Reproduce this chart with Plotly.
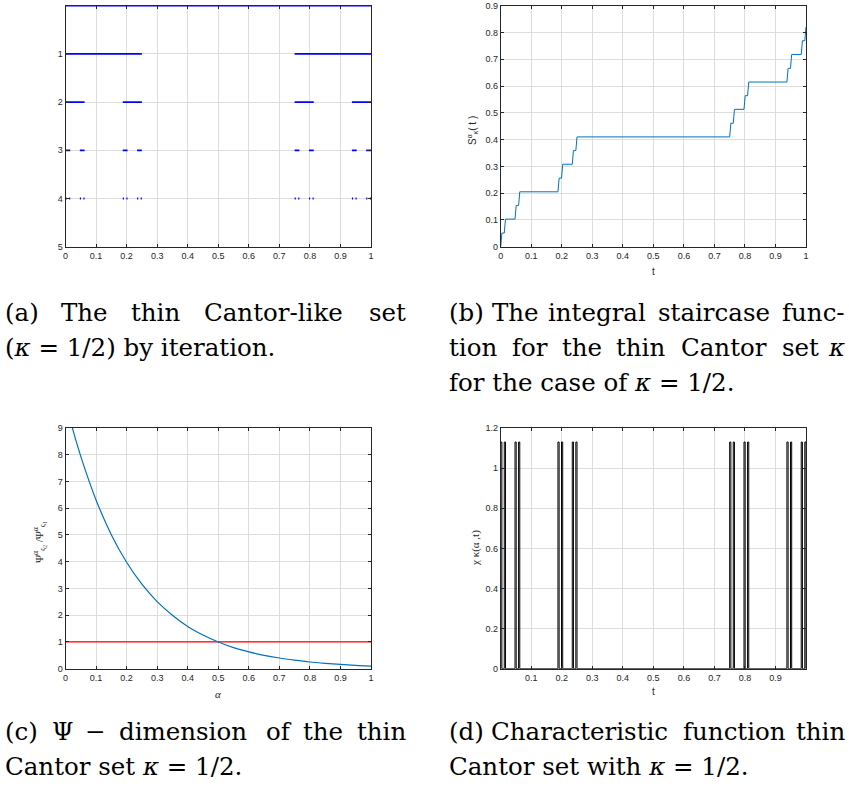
import plotly.graph_objects as go

W, H = 849, 788

# ---------------- data ----------------
# (a) thin Cantor-like set, interval starts per iteration level and interval widths
level_ids = [0, 1, 2, 3, 4]
level0_starts = [0.0]
level1_starts = [0.0, 0.75]
level2_starts = [0.0, 0.1875, 0.75, 0.9375]
level3_starts = [0.0, 0.046875, 0.1875, 0.234375, 0.75, 0.796875, 0.9375, 0.984375]
level4_starts = [0.0, 0.01171875, 0.046875, 0.05859375, 0.1875, 0.19921875, 0.234375, 0.24609375,
                 0.75, 0.76171875, 0.796875, 0.80859375, 0.9375, 0.94921875, 0.984375, 0.99609375]
level_widths = [1.0, 0.25, 0.0625, 0.015625, 0.00390625]
level_starts = [level0_starts, level1_starts, level2_starts, level3_starts, level4_starts]

# (b) integral staircase function
stair_t = [0.0, 0.0039, 0.0117, 0.0156, 0.0469, 0.0508, 0.0586, 0.0625,
           0.1875, 0.1914, 0.1992, 0.2031, 0.2344, 0.2383, 0.2461, 0.25,
           0.75, 0.7539, 0.7617, 0.7656, 0.7969, 0.8008, 0.8086, 0.8125,
           0.9375, 0.9414, 0.9492, 0.9531, 0.9844, 0.9883, 0.9961, 1.0]
stair_S = [0.0, 0.051, 0.051, 0.103, 0.103, 0.154, 0.154, 0.205,
           0.205, 0.256, 0.256, 0.308, 0.308, 0.359, 0.359, 0.41,
           0.41, 0.461, 0.461, 0.513, 0.513, 0.564, 0.564, 0.615,
           0.615, 0.666, 0.666, 0.718, 0.718, 0.769, 0.769, 0.82]

# (c) Psi-dimension ratio
alpha = [0.0, 0.025, 0.05, 0.1, 0.15, 0.2, 0.25, 0.3, 0.35, 0.4, 0.45, 0.5,
         0.55, 0.6, 0.65, 0.7, 0.75, 0.8, 0.85, 0.9, 0.95, 1.0]
psi_ratio = [10.0, 8.9, 7.94, 6.31, 5.01, 3.98, 3.16, 2.51, 2.0, 1.58, 1.26, 1.0,
             0.79, 0.63, 0.5, 0.4, 0.32, 0.25, 0.2, 0.16, 0.126, 0.1]
ref_x = [0.0, 1.0]
ref_y = [1.0, 1.0]

# (d) characteristic function
chi_starts = level4_starts
chi_width = 0.00390625
chi_height = 1.13

# captions: (left x, right x or None when not justified, center y, words)
caption_lines = [
    (3, 408, 312, ["(a)", "The", "thin", "Cantor-like", "set"]),
    (3, None, 347, ["(<i>κ</i> = 1/2)", "by", "iteration."]),
    (447, 847, 312, ["(b)", "The", "integral", "staircase", "func-"]),
    (447, 847, 347, ["tion", "for", "the", "thin", "Cantor", "set", "<i>κ</i>"]),
    (447, None, 382, ["for", "the", "case", "of", "<i>κ</i> = 1/2."]),
    (3, 408, 731, ["(c)", "Ψ", "−", "dimension", "of", "the", "thin"]),
    (3, None, 766, ["Cantor", "set", "<i>κ</i> = 1/2."]),
    (447, 847, 731, ["(d)", "Characteristic", "function", "thin"]),
    (447, None, 766, ["Cantor", "set", "with", "<i>κ</i> = 1/2."]),
]

# ---------------- helpers ----------------
def px(x):
    return x / W

def py(y):
    return 1 - y / H

# approximate DejaVu Serif advance widths (per 1000 em)
TW = {" ": 318, "(": 390, ")": 390, "a": 596, "b": 640, "c": 560, "d": 640, "e": 592, "f": 370,
      "g": 640, "h": 644, "i": 320, "k": 610, "l": 320, "m": 948, "n": 644, "o": 602, "p": 640,
      "r": 478, "s": 513, "t": 402, "u": 644, "v": 565, "w": 856, "y": 565, "z": 523, "T": 683,
      "C": 734, "-": 338, ".": 318, "=": 838, "/": 337, "1": 636, "2": 636, "Ψ": 840, "κ": 600,
      "−": 838}

def text_width(s, size):
    s = s.replace("<i>", "").replace("</i>", "")
    return 1.06 * sum(TW.get(ch, 600) for ch in s) * size / 1000.0

AX = "#262626"
GRID = "#dedede"
TICKFONT = dict(family="Liberation Sans, Arial", size=9, color=AX)

fig = go.Figure()

# (a)
for lev, starts, w in zip(level_ids, level_starts, level_widths):
    xs, ys = [], []
    for s in starts:
        xs += [s, s + w, None]
        ys += [lev, lev, None]
    fig.add_trace(go.Scatter(x=xs, y=ys, mode="lines", line=dict(color="#0000ff", width=1.8),
                             xaxis="x", yaxis="y", showlegend=False, cliponaxis=False, hoverinfo="skip"))

# (b)
fig.add_trace(go.Scatter(x=stair_t, y=stair_S, mode="lines", line=dict(color="#0072bd", width=1),
                         xaxis="x2", yaxis="y2", showlegend=False))

# (c)
fig.add_trace(go.Scatter(x=ref_x, y=ref_y, mode="lines", line=dict(color="#ff0000", width=1.2),
                         xaxis="x3", yaxis="y3", showlegend=False))
fig.add_trace(go.Scatter(x=alpha, y=psi_ratio, mode="lines", line=dict(color="#0072bd", width=1.2, shape="spline"),
                         xaxis="x3", yaxis="y3", showlegend=False))

# (d)
xs, ys = [chi_starts[0]], [0.0]
for s in chi_starts:
    xs += [s, s, s + chi_width, s + chi_width]
    ys += [0.0, chi_height, chi_height, 0.0]
fig.add_trace(go.Scatter(x=xs, y=ys, mode="lines", line=dict(color="#000000", width=1.0),
                         xaxis="x4", yaxis="y4", showlegend=False))

def axis(domain, rng, tickvals, ticktext=None, anchor=None):
    d = dict(domain=domain, range=rng, tickvals=tickvals, showgrid=True, gridcolor=GRID, gridwidth=1,
             showline=True, linecolor=AX, linewidth=1, mirror="allticks", ticks="inside", ticklen=3,
             tickcolor=AX, tickwidth=1, tickfont=TICKFONT, zeroline=False, anchor=anchor,
             automargin=False)
    if ticktext is not None:
        d["ticktext"] = ticktext
    return d

xa_dom = [px(65.5), px(371)]
xb_dom = [px(500.7), px(806)]
top_dom = [py(246.7), py(5.7)]
bot_dom = [py(668.7), py(428.0)]

tick01 = [0, 0.1, 0.2, 0.3, 0.4, 0.5, 0.6, 0.7, 0.8, 0.9, 1]
tick01_text = ["0", "0.1", "0.2", "0.3", "0.4", "0.5", "0.6", "0.7", "0.8", "0.9", "1"]

fig.update_layout(
    width=W, height=H, margin=dict(l=0, r=0, t=0, b=0, autoexpand=False),
    paper_bgcolor="white", plot_bgcolor="white",
    xaxis=axis(xa_dom, [0, 1], tick01, tick01_text, "y"),
    yaxis=axis(top_dom, [5, 0], [1, 2, 3, 4, 5], ["1", "2", "3", "4", "5"], "x"),
    xaxis2=axis(xb_dom, [0, 1], tick01, tick01_text, "y2"),
    yaxis2=axis(top_dom, [0, 0.9], [0, 0.1, 0.2, 0.3, 0.4, 0.5, 0.6, 0.7, 0.8, 0.9],
                ["0", "0.1", "0.2", "0.3", "0.4", "0.5", "0.6", "0.7", "0.8", "0.9"], "x2"),
    xaxis3=axis(xa_dom, [0, 1], tick01, tick01_text, "y3"),
    yaxis3=axis(bot_dom, [0, 9], list(range(10)), [str(i) for i in range(10)], "x3"),
    xaxis4=axis(xb_dom, [0, 1], tick01[1:-1], tick01_text[1:-1], "y4"),
    yaxis4=axis(bot_dom, [0, 1.2], [0, 0.2, 0.4, 0.6, 0.8, 1.0, 1.2],
                ["0", "0.2", "0.4", "0.6", "0.8", "1", "1.2"], "x4"),
)

ann = []
LBL = dict(family="Liberation Sans, Arial", size=10, color=AX)
SER = dict(family="Liberation Serif, Times New Roman", size=11, color=AX)
# axis titles
ann.append(dict(x=px(653), y=py(271), text="t", font=LBL))
ann.append(dict(x=px(472), y=py(130), text="S<sup>α</sup><sub>κ</sub>( t )", font=LBL, textangle=-90))
ann.append(dict(x=px(218), y=py(694), text="<i>α</i>", font=SER))
ann.append(dict(x=px(39), y=py(542), text="Ψ<sup>α</sup><sub>ς<sub>2</sub></sub> /Ψ<sup>α</sup><sub>ς<sub>1</sub></sub>",
                font=SER, textangle=-90))
ann.append(dict(x=px(653), y=py(691), text="t", font=LBL))
ann.append(dict(x=px(475), y=py(548), text="χ κ(α ,t)", font=SER, textangle=-90))

# captions
CAP_SIZE = 24.5
CAP = dict(family="DejaVu Serif", size=CAP_SIZE, color="#000000")
for x0, x1, yc, words in caption_lines:
    if x1 is None:
        ann.append(dict(x=px(x0), y=py(yc), text=" ".join(words), font=CAP, xanchor="left"))
        continue
    widths = [text_width(w, CAP_SIZE) for w in words]
    gap = (x1 - x0 - sum(widths)) / (len(words) - 1)
    x = x0
    for i, (w, wd) in enumerate(zip(words, widths)):
        if i == len(words) - 1:
            ann.append(dict(x=px(x1), y=py(yc), text=w, font=CAP, xanchor="right"))
        else:
            ann.append(dict(x=px(x), y=py(yc), text=w, font=CAP, xanchor="left"))
        x += wd + gap

for a in ann:
    a.setdefault("xanchor", "center")
    a.update(xref="paper", yref="paper", yanchor="middle", showarrow=False)
fig.update_layout(annotations=ann)

fig.write_html("out.html", config={"displayModeBar": False},
               post_script="document.body.style.margin='0px';document.body.style.overflow='hidden';")
